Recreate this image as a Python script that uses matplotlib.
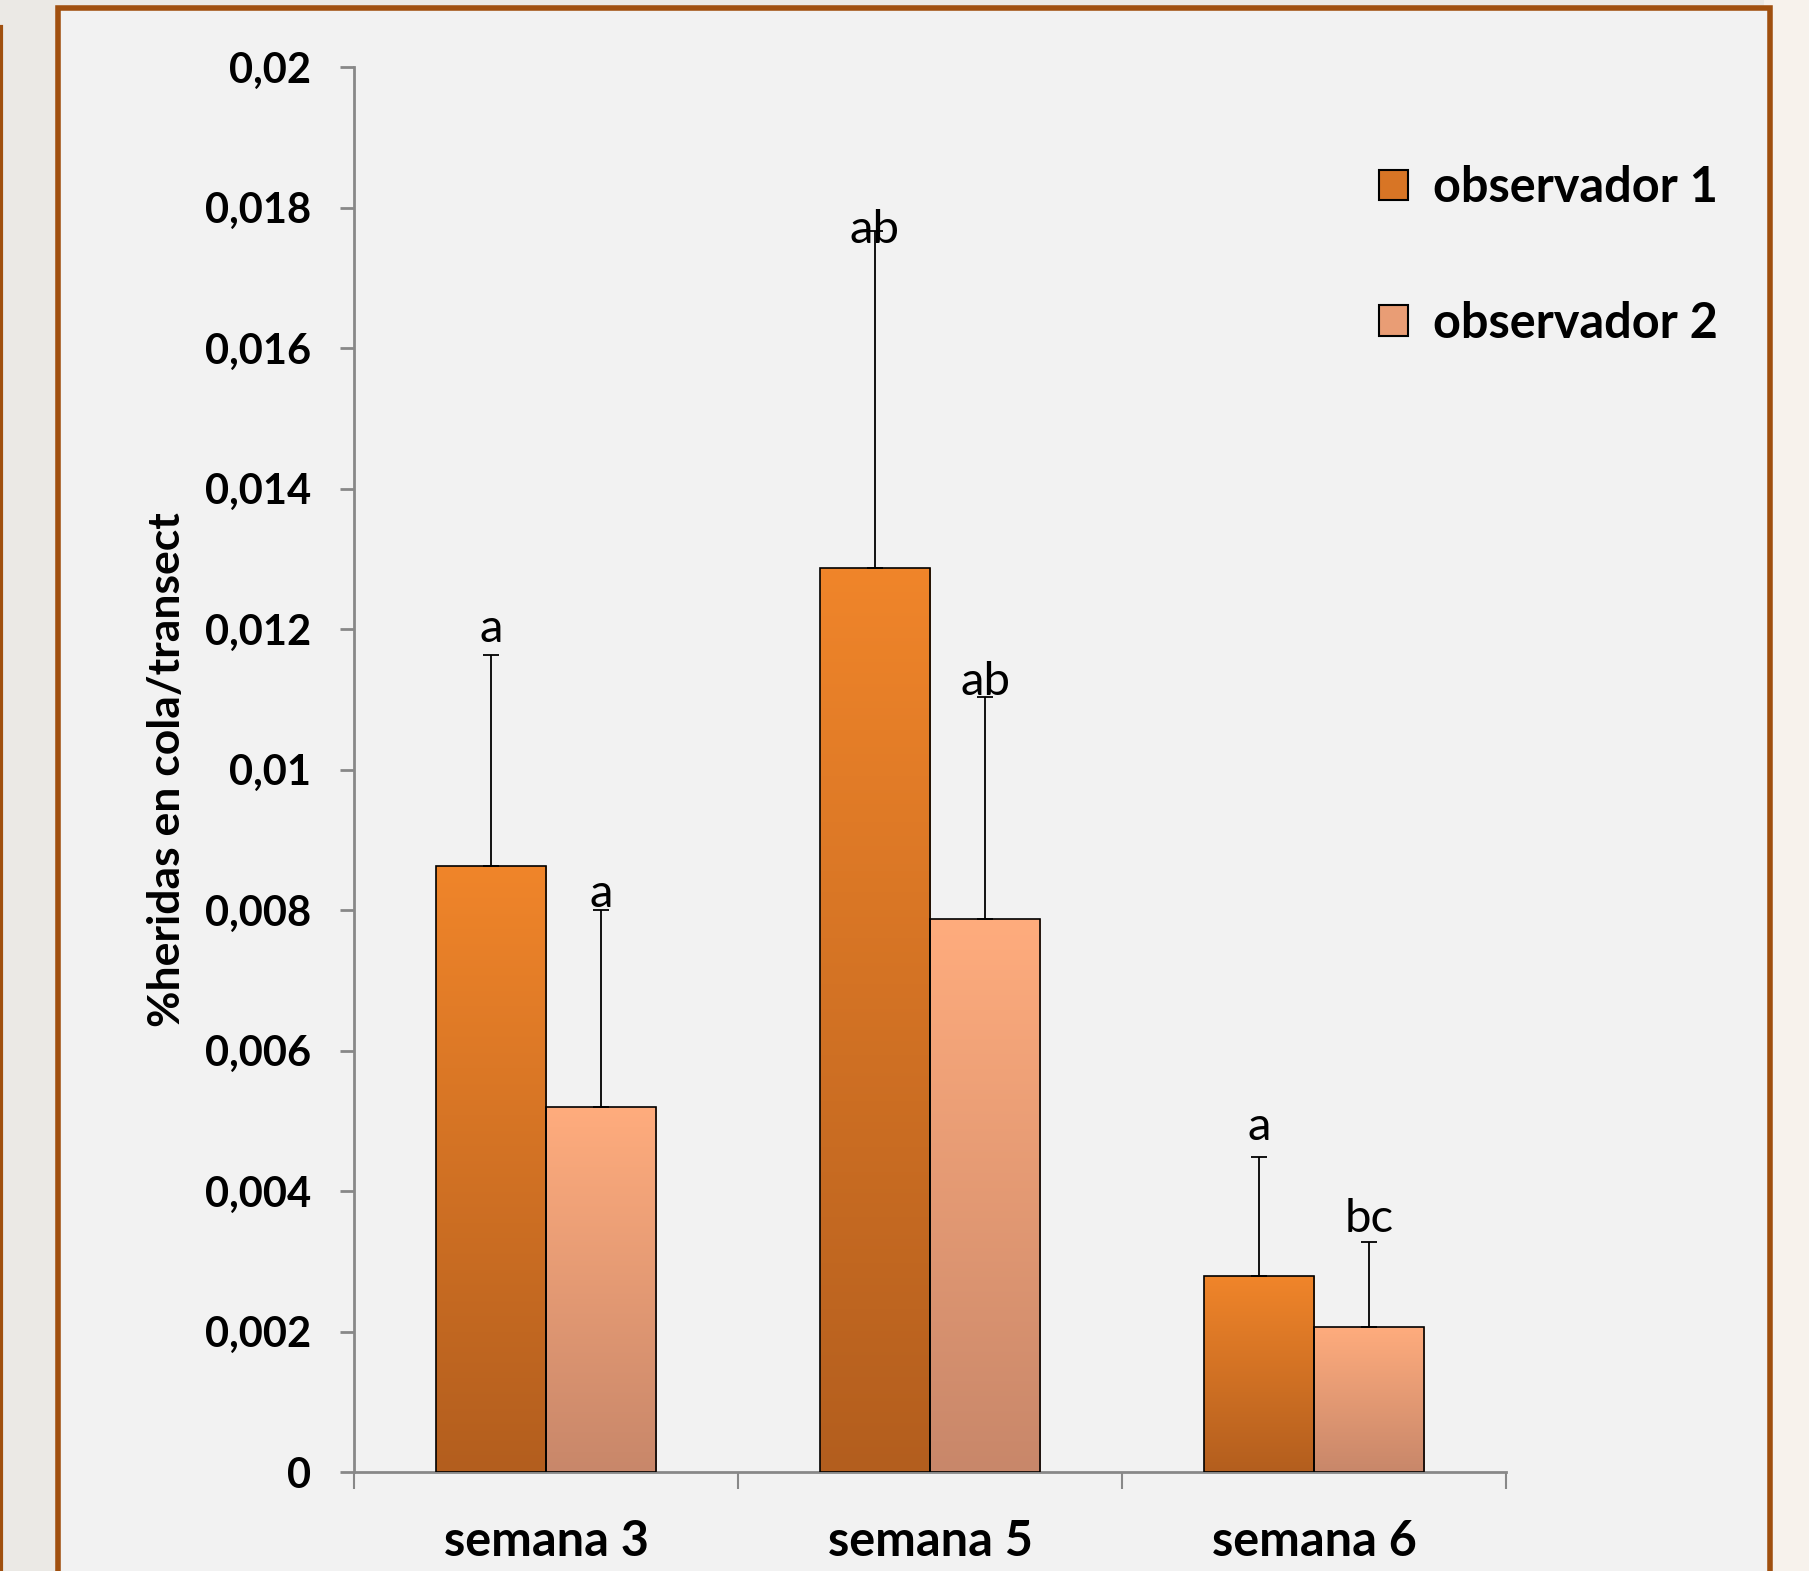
import matplotlib
matplotlib.use("Agg")
import matplotlib.pyplot as plt
import numpy as np
from matplotlib.colors import LinearSegmentedColormap
from matplotlib.patches import Rectangle
from matplotlib.lines import Line2D

# data
weeks = ["semana 3", "semana 5", "semana 6"]
series = ["observador 1", "observador 2"]
obs1 = [0.00862, 0.01287, 0.00279]
obs2 = [0.00519, 0.00787, 0.00207]
err1 = [0.00301, 0.00480, 0.00169]
err2 = [0.00281, 0.00316, 0.00120]
letters1 = ["a", "ab", "a"]
letters2 = ["a", "ab", "bc"]
letter_y1 = [0.0120, 0.01768, 0.00491]
letter_y2 = [0.00823, 0.01125, 0.0036]
yticks = [0, 0.002, 0.004, 0.006, 0.008, 0.01, 0.012, 0.014, 0.016, 0.018, 0.02]
ytick_labels = ["0", "0,002", "0,004", "0,006", "0,008", "0,01", "0,012",
                "0,014", "0,016", "0,018", "0,02"]

plt.rcParams['font.family'] = ['Lato', 'DejaVu Sans']

W, H = 1809, 1571
fig = plt.figure(figsize=(W / 100, H / 100), dpi=100, facecolor="#EBE9E5")

# warm right strip outside the frame
fig.add_artist(Rectangle((0.975, 0), 0.03, 1, transform=fig.transFigure,
                         facecolor="#F7F2EC", edgecolor="none", zorder=0))
# panel with brown frame
fig.add_artist(Rectangle((58 / W, -0.05), (1770 - 58) / W, 1.05 - 8 / H,
                         transform=fig.transFigure, facecolor="#F2F2F2",
                         edgecolor="#A0500F", linewidth=4, zorder=1))
fig.add_artist(Line2D([1 / W, 1 / W], [0, 1 - 27 / H], transform=fig.transFigure,
                      color="#A0500F", linewidth=3, zorder=1))

ax = fig.add_axes([354 / W, 1 - 1472 / H, (1506 - 354) / W, (1472 - 67) / H])
ax.set_facecolor("none")
ax.set_zorder(2)

x = np.arange(len(weeks))
bw = 0.287

cmap1 = LinearSegmentedColormap.from_list("o1", ["#B35E1E", "#F0852A"])
cmap2 = LinearSegmentedColormap.from_list("o2", ["#C8876A", "#FFAC7D"])

grad = np.linspace(0, 1, 256).reshape(-1, 1)

def gradient_bars(xpos, vals, cmap, label):
    bars = ax.bar(xpos, vals, bw, color=cmap(0.6), edgecolor="black",
                  linewidth=1.2, label=label, zorder=3)
    for b in bars:
        x0, y0 = b.get_x(), b.get_y()
        im = ax.imshow(grad, extent=[x0, x0 + b.get_width(), y0, y0 + b.get_height()],
                       origin="lower", aspect="auto", cmap=cmap, zorder=3.5)
        im.set_clip_path(b)
        b.set_facecolor("none")
        b.set_zorder(4)
    return bars

b1 = gradient_bars(x - bw / 2, obs1, cmap1, series[0])
b2 = gradient_bars(x + bw / 2, obs2, cmap2, series[1])

ax.errorbar(x - bw / 2, obs1, yerr=[np.zeros(3), err1], fmt="none",
            ecolor="black", elinewidth=1.3, capsize=6, capthick=1.3, zorder=5)
ax.errorbar(x + bw / 2, obs2, yerr=[np.zeros(3), err2], fmt="none",
            ecolor="black", elinewidth=1.3, capsize=6, capthick=1.3, zorder=5)

for i in range(len(weeks)):
    ax.text(x[i] - bw / 2, letter_y1[i], letters1[i], ha="center", va="center",
            fontsize=34, zorder=6)
    ax.text(x[i] + bw / 2, letter_y2[i], letters2[i], ha="center", va="center",
            fontsize=34, zorder=6)

ax.set_xlim(-0.5, 2.5)
ax.set_ylim(0, 0.02)

for s in ["top", "right"]:
    ax.spines[s].set_visible(False)
for s in ["left", "bottom"]:
    ax.spines[s].set_color("#888888")
    ax.spines[s].set_linewidth(2)

ax.set_yticks(yticks)
ax.set_yticklabels(ytick_labels, fontsize=30, fontweight="bold")
ax.tick_params(axis="y", length=10, width=2, color="#888888", pad=21)

ax.set_xticks([-0.5, 0.5, 1.5, 2.5])
ax.set_xticklabels([])
ax.tick_params(axis="x", which="major", length=12, width=1.5, color="#888888")
ax.set_xticks(x, minor=True)
ax.set_xticklabels(weeks, minor=True, fontsize=35, fontweight="bold")
ax.tick_params(axis="x", which="minor", length=0, pad=34)

ax.set_ylabel("%heridas en cola/transect", fontsize=32, fontweight="bold")
ax.yaxis.set_label_coords(-0.145, 0.5)

leg = ax.legend(handles=[b1, b2], loc="upper left", bbox_to_anchor=(0.873, 0.944),
                frameon=False, prop={"weight": "bold", "size": 35},
                handlelength=0.6, handleheight=0.6, handletextpad=0.5,
                labelspacing=1.87, borderaxespad=0)
for h, c in zip(leg.legend_handles, [cmap1(0.6), cmap2(0.6)]):
    h.set_facecolor(c)
    h.set_edgecolor("black")
    h.set_linewidth(1.5)

fig.savefig("out.png", dpi=100, facecolor=fig.get_facecolor())
